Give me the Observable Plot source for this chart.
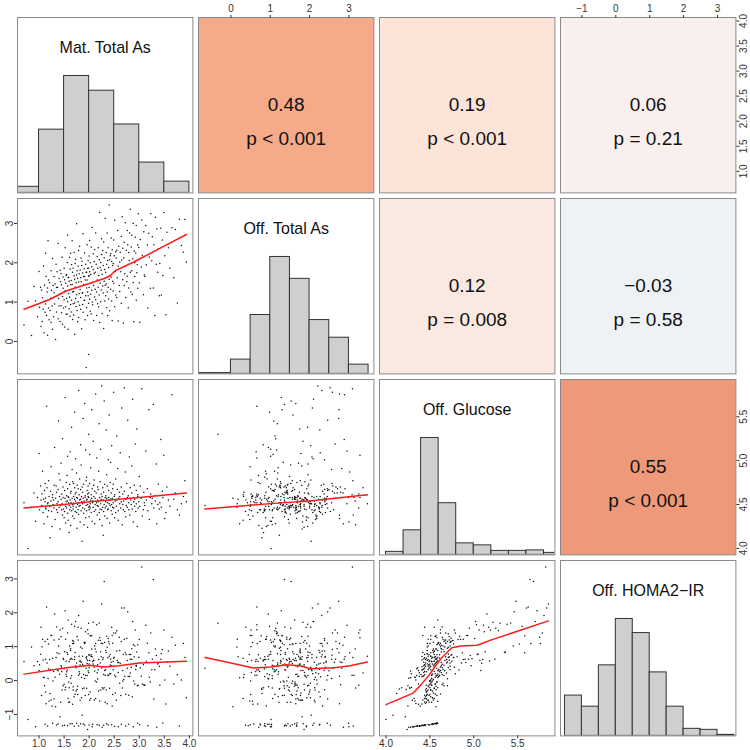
<!DOCTYPE html>
<html>
<head>
<meta charset="utf-8">
<script src="https://cdn.jsdelivr.net/npm/d3@7"></script>
<script src="https://cdn.jsdelivr.net/npm/@observablehq/plot@0.6"></script>
<style>
  body { margin: 0; background: #fff; }
  #chart { position: relative; width: 750px; height: 750px; background: #fff;
           font-family: "Liberation Sans", Arial, Helvetica, sans-serif; }
  #chart svg { position: absolute; overflow: visible; }
</style>
</head>
<body>
<div id="chart"></div>
<script>
// ---------- variable names ----------
const varNames = ["Mat. Total As", "Off. Total As", "Off. Glucose", "Off. HOMA2\u2212IR"];

const matAs = [
  0.70,0.78,0.85,0.90,0.93,0.97,1.00,1.01,1.03,1.04,
  1.05,1.06,1.07,1.08,1.09,1.10,1.11,1.12,1.12,1.13,
  1.13,1.14,1.15,1.16,1.17,1.17,1.18,1.19,1.19,1.20,
  1.21,1.22,1.23,1.24,1.24,1.25,1.26,1.27,1.27,1.28,
  1.29,1.30,1.30,1.31,1.32,1.33,1.34,1.35,1.35,1.36,
  1.37,1.38,1.38,1.39,1.40,1.40,1.41,1.42,1.42,1.43,
  1.44,1.44,1.45,1.45,1.46,1.47,1.47,1.48,1.48,1.49,
  1.50,1.50,1.51,1.51,1.52,1.52,1.53,1.53,1.54,1.54,
  1.55,1.55,1.56,1.56,1.57,1.57,1.57,1.58,1.58,1.59,
  1.59,1.60,1.60,1.61,1.61,1.62,1.62,1.63,1.63,1.63,
  1.64,1.64,1.65,1.65,1.66,1.66,1.67,1.67,1.67,1.68,
  1.68,1.69,1.69,1.70,1.70,1.71,1.71,1.71,1.72,1.72,
  1.73,1.73,1.74,1.74,1.75,1.75,1.75,1.76,1.76,1.77,
  1.77,1.78,1.78,1.79,1.79,1.79,1.80,1.80,1.81,1.81,
  1.82,1.82,1.83,1.83,1.83,1.84,1.84,1.85,1.85,1.86,
  1.86,1.87,1.87,1.87,1.88,1.88,1.89,1.89,1.90,1.90,
  1.91,1.91,1.91,1.92,1.92,1.93,1.93,1.94,1.94,1.95,
  1.95,1.95,1.96,1.96,1.97,1.97,1.97,1.98,1.98,1.99,
  1.99,1.99,1.99,2.00,2.00,2.00,2.01,2.01,2.01,2.02,
  2.02,2.03,2.03,2.04,2.04,2.05,2.05,2.06,2.06,2.07,
  2.07,2.08,2.08,2.09,2.09,2.10,2.10,2.11,2.11,2.12,
  2.12,2.13,2.13,2.14,2.15,2.15,2.16,2.16,2.17,2.17,
  2.18,2.18,2.19,2.19,2.20,2.20,2.21,2.21,2.22,2.22,
  2.23,2.23,2.24,2.24,2.25,2.25,2.26,2.26,2.27,2.27,
  2.28,2.28,2.29,2.29,2.30,2.30,2.31,2.31,2.32,2.32,
  2.33,2.33,2.34,2.34,2.35,2.35,2.36,2.36,2.37,2.37,
  2.38,2.38,2.39,2.39,2.40,2.40,2.41,2.41,2.42,2.42,
  2.43,2.43,2.44,2.44,2.45,2.45,2.46,2.46,2.47,2.47,
  2.48,2.48,2.49,2.49,2.50,2.51,2.51,2.52,2.53,2.53,
  2.54,2.55,2.55,2.56,2.57,2.58,2.58,2.59,2.60,2.61,
  2.61,2.62,2.63,2.64,2.64,2.65,2.66,2.67,2.67,2.68,
  2.69,2.70,2.70,2.71,2.72,2.73,2.73,2.74,2.75,2.76,
  2.76,2.77,2.78,2.79,2.79,2.80,2.81,2.82,2.82,2.83,
  2.84,2.85,2.85,2.86,2.87,2.88,2.88,2.89,2.90,2.91,
  2.91,2.92,2.93,2.94,2.94,2.95,2.96,2.97,2.97,2.98,
  2.99,3.00,3.01,3.02,3.04,3.05,3.06,3.08,3.09,3.10,
  3.11,3.13,3.14,3.16,3.17,3.19,3.20,3.22,3.23,3.25,
  3.26,3.28,3.29,3.31,3.32,3.34,3.35,3.37,3.38,3.40,
  3.41,3.43,3.44,3.46,3.47,3.49,3.51,3.53,3.55,3.58,
  3.61,3.65,3.69,3.72,3.76,3.80,3.84,3.88,3.91,3.94
];
const offAs = [
  0.42,1.02,0.15,1.40,1.03,0.63,1.78,0.87,1.38,0.38,
  1.31,0.51,1.11,0.82,1.92,0.22,1.43,1.03,0.74,2.24,
  0.95,1.65,0.66,1.26,0.16,1.36,2.56,0.85,1.56,0.55,
  1.49,0.79,1.10,1.80,0.49,1.30,0.90,2.11,0.31,1.42,
  0.63,1.24,1.65,0.95,1.46,0.05,1.96,0.75,1.37,1.77,
  1.38,0.58,2.49,1.09,1.60,0.90,1.20,1.81,0.51,1.52,
  0.91,1.72,0.73,1.44,2.14,1.14,0.44,1.64,1.35,0.85,
  1.86,1.06,1.57,0.37,1.28,2.38,0.88,1.48,0.69,1.68,
  1.10,1.70,0.70,2.01,1.41,1.01,2.71,0.31,1.62,1.22,
  1.63,0.83,1.53,1.13,2.14,0.64,1.84,1.44,0.94,2.24,
  0.75,1.55,1.95,1.05,1.45,2.56,0.56,1.76,1.26,0.96,
  1.87,1.27,0.67,1.67,2.27,0.98,1.58,0.18,1.98,1.38,
  1.09,2.09,1.49,0.89,1.69,1.19,2.99,0.79,1.80,0.50,
  1.61,1.01,1.91,2.31,0.61,1.51,1.21,1.72,0.92,2.42,
  1.32,1.82,0.82,1.62,1.12,2.12,1.52,0.32,1.93,1.23,
  2.04,0.94,1.74,1.24,2.74,0.74,1.65,1.45,1.05,1.85,
  1.05,1.65,2.25,0.55,1.56,1.96,1.16,-0.66,1.76,1.36,
  1.76,0.86,1.56,2.46,1.26,0.66,1.86,2.06,1.16,1.66,
  0.97,1.87,-0.33,1.67,2.17,1.37,1.07,2.57,1.77,0.77,
  2.00,1.20,1.70,0.70,2.40,1.30,1.90,1.00,2.90,1.50,
  0.93,1.83,2.23,1.43,0.53,2.03,1.73,1.13,2.33,1.33,
  1.76,1.06,2.76,1.96,1.26,0.66,2.16,1.56,0.96,1.86,
  1.38,2.38,0.88,1.68,2.08,1.18,3.28,0.48,1.88,1.48,
  2.01,1.01,1.81,1.31,2.61,2.21,0.71,1.71,1.41,2.31,
  1.23,1.93,0.33,2.53,1.53,2.13,1.03,1.83,3.13,1.43,
  1.76,1.16,2.26,1.46,1.96,0.86,2.76,1.26,2.06,0.66,
  1.38,2.38,1.88,1.08,3.47,1.58,2.08,0.78,1.68,2.18,
  2.23,1.33,1.63,2.63,1.03,2.03,2.33,0.53,1.93,1.53,
  1.28,1.98,2.58,1.48,2.18,0.88,3.08,1.78,1.18,2.28,
  2.12,1.12,2.32,1.62,2.82,0.52,1.92,2.42,1.42,2.02,
  1.27,2.27,1.77,2.67,0.97,2.07,3.17,1.57,2.37,0.47,
  2.12,1.42,2.52,1.72,3.02,1.12,1.92,2.32,1.52,2.82,
  1.66,2.46,0.86,2.26,1.36,2.06,2.76,1.76,3.36,1.26,
  2.40,1.80,2.70,1.20,2.10,1.50,3.00,0.50,2.30,2.00,
  1.65,2.65,2.25,1.05,2.95,1.75,1.95,2.45,1.35,3.25,
  2.39,1.49,0.49,2.59,1.89,3.09,2.19,1.19,2.79,1.69,
  1.65,2.95,1.95,2.45,0.85,2.75,2.15,1.35,3.25,2.05,
  2.66,1.36,2.46,0.66,3.16,1.96,2.86,1.76,2.36,1.16,
  1.98,2.88,1.18,2.58,1.68,3.28,2.18,0.68,2.78,2.38,
  1.86,2.89,1.62,2.85,0.98,3.11,2.44,2.27,3.10,2.02
];
const glucose = [
  4.52,4.00,4.47,4.63,4.31,4.58,5.08,4.44,4.71,4.55,
  4.49,4.62,4.88,4.41,4.56,4.28,4.66,4.53,4.74,4.46,
  4.57,4.45,5.62,4.69,4.51,4.36,4.52,4.43,4.77,4.59,
  4.48,4.12,4.65,4.54,4.93,4.42,4.25,4.58,4.61,4.50,
  4.55,4.72,4.46,5.15,4.33,4.57,4.71,4.44,4.64,4.51,
  4.41,4.53,4.67,5.45,4.47,4.85,4.59,4.22,4.78,4.49,
  4.56,4.97,4.44,4.62,4.51,5.25,4.38,4.58,4.70,4.45,
  4.50,4.35,4.66,4.42,5.72,4.57,4.48,4.29,4.75,4.53,
  4.46,4.60,4.83,4.54,4.40,5.05,4.68,4.32,4.59,4.52,
  4.58,4.18,4.49,4.73,4.44,5.10,4.55,4.63,4.26,4.47,
  4.52,4.65,5.38,4.43,4.57,4.90,4.37,4.50,4.76,4.48,
  4.45,4.74,4.59,4.34,4.51,5.55,4.69,4.56,4.62,4.42,
  4.54,5.02,4.47,4.64,4.41,4.86,4.58,4.23,4.72,4.50,
  4.57,4.68,4.44,5.80,4.52,4.39,4.61,4.48,4.79,4.55,
  4.49,4.30,5.18,4.56,4.67,4.43,4.95,4.59,4.53,4.70,
  4.08,4.51,4.64,4.46,5.48,4.57,4.40,4.73,4.27,4.54,
  4.52,5.65,4.45,4.60,4.58,4.35,5.12,4.49,4.77,4.55,
  4.43,4.81,4.56,4.66,4.50,4.62,4.24,4.59,4.71,4.47,
  4.58,4.63,5.30,4.44,4.36,4.53,5.07,4.74,4.48,4.51,
  4.46,4.92,4.55,4.61,4.41,5.58,4.57,4.31,4.68,4.52,
  4.54,5.22,4.47,4.72,4.59,4.78,4.42,4.28,4.65,4.50,
  4.57,4.44,5.76,4.63,4.52,5.03,4.38,4.49,4.70,4.55,
  4.48,4.67,4.88,4.53,4.41,5.42,4.58,4.33,4.76,4.45,
  4.51,5.13,4.56,4.62,4.44,5.85,4.26,4.59,4.69,4.47,
  4.15,4.55,4.64,4.42,5.68,4.50,4.73,4.37,4.58,4.46,
  4.53,4.60,5.35,4.48,4.84,4.57,4.34,4.71,4.44,4.52,
  4.45,5.01,4.58,4.66,4.51,5.52,4.29,4.55,4.75,4.49,
  4.56,4.98,4.43,4.63,4.50,5.17,4.39,4.57,4.68,4.47,
  4.52,4.73,5.78,4.46,4.59,4.35,4.61,4.54,4.79,4.41,
  4.48,5.28,4.55,4.67,4.91,4.43,4.32,4.57,4.64,4.51,
  4.59,5.09,4.46,4.70,4.53,5.60,4.27,4.50,4.62,4.44,
  4.54,4.65,5.83,4.42,4.87,4.56,4.36,4.49,4.74,4.58,
  4.47,5.46,4.60,4.52,4.44,5.04,4.38,4.57,4.69,4.55,
  4.50,4.94,4.63,4.45,5.70,4.58,4.30,4.53,4.72,4.48,
  4.56,5.19,4.42,4.66,4.51,5.36,4.25,4.59,4.61,4.46,
  4.53,4.82,4.48,4.71,4.57,5.82,4.37,4.44,4.64,4.52,
  4.49,5.11,4.55,4.68,4.43,5.58,4.33,4.58,4.62,4.51,
  4.57,5.64,4.46,4.60,4.54,4.96,4.28,4.50,4.73,4.45,
  4.52,5.24,4.47,4.65,4.58,5.06,4.34,4.41,4.70,4.55,
  4.48,5.75,4.56,4.63,4.44,4.38,4.51,4.59,4.77,4.53
];
const homa = [
  0.56,-1.15,0.99,0.44,-1.36,0.56,0.30,0.47,0.78,1.57,
  -0.44,1.00,1.22,0.61,0.10,0.08,-0.15,-1.29,1.15,-0.34,
  0.63,-0.68,2.17,0.52,1.22,-1.34,0.06,0.34,1.08,-0.61,
  0.62,-0.38,0.32,-0.57,1.33,1.33,-0.75,-1.26,0.66,-0.01,
  0.27,1.20,-0.54,1.96,0.10,-0.77,0.68,-1.31,1.58,0.82,
  0.31,-1.28,0.29,1.02,0.79,1.22,0.19,-1.07,1.49,-0.64,
  1.30,0.44,0.27,0.40,-0.28,1.54,-1.33,0.66,-0.15,0.62,
  -0.11,0.35,0.85,-1.32,2.06,-0.27,1.22,-0.20,0.57,0.19,
  0.26,0.12,0.31,0.83,-1.33,0.78,1.40,-0.53,1.79,-0.64,
  -0.04,-0.21,0.56,1.02,-0.63,0.62,-1.27,0.94,0.07,0.89,
  0.66,-0.08,1.66,0.14,-1.27,0.63,-0.70,1.09,1.18,-0.18,
  -0.28,1.15,1.09,-1.35,-0.48,1.60,0.62,0.70,-0.40,0.83,
  0.43,1.74,-0.31,0.38,0.41,0.52,-1.26,-0.26,1.30,-0.41,
  -0.17,1.20,1.57,1.92,0.16,-1.34,0.26,0.72,0.20,0.57,
  0.46,-0.58,0.58,-1.27,0.99,0.54,1.54,0.09,-0.51,0.95,
  -1.02,0.72,0.48,-0.24,2.34,-1.28,0.18,0.42,-0.22,1.13,
  0.06,1.09,-1.31,1.12,-0.44,0.15,1.44,0.36,0.68,-0.23,
  0.64,0.70,0.50,0.15,0.59,1.50,-1.44,0.29,1.38,-0.41,
  0.76,0.24,1.69,-1.31,0.38,0.49,0.59,0.75,-0.58,1.32,
  -0.34,1.33,-0.53,0.76,0.71,1.32,0.93,-1.36,0.70,0.56,
  -1.29,1.72,0.49,0.60,0.59,0.39,-0.57,0.28,1.02,-0.01,
  0.93,-0.53,1.09,0.84,-0.04,1.65,0.23,-1.30,0.05,0.47,
  0.32,1.19,0.62,-0.31,-1.32,1.70,1.26,-0.60,1.18,0.52,
  -0.28,0.85,0.70,1.10,0.37,2.26,-1.38,-0.21,0.62,1.09,
  -0.25,0.67,0.18,-1.32,2.92,-0.21,1.12,0.30,0.16,-0.64,
  0.89,0.32,0.83,-0.28,1.31,-1.27,-0.68,0.98,0.67,0.16,
  -1.31,1.24,0.16,1.15,0.72,1.08,0.20,-0.23,0.77,0.46,
  0.20,0.64,0.44,0.54,-1.30,1.57,-0.75,1.33,1.10,-0.41,
  0.56,0.32,1.40,0.66,0.69,-1.35,0.16,-0.37,1.40,0.11,
  -0.58,1.47,0.87,0.59,0.53,0.24,-1.36,0.53,1.28,-0.08,
  0.89,0.51,-0.44,1.15,-1.29,2.14,-0.22,-0.01,0.30,0.77,
  0.03,1.22,2.14,0.13,0.82,-0.40,-1.34,0.76,1.25,0.36,
  0.59,2.03,0.12,-1.29,-0.43,0.77,0.13,0.63,0.22,0.77,
  0.39,0.63,0.94,-0.48,1.74,1.06,-1.36,-0.01,0.70,1.02,
  -0.10,1.49,0.33,0.45,0.42,0.84,-0.15,-1.26,1.06,-0.14,
  0.69,1.21,-1.30,0.38,0.13,3.35,-0.10,0.47,-0.12,-0.14,
  -0.14,1.63,0.57,1.10,-1.33,0.82,0.10,-0.04,1.40,0.32,
  0.63,2.98,-0.54,0.32,0.93,0.74,-1.38,0.49,0.52,0.42,
  -0.14,0.63,0.79,0.92,-1.25,1.49,0.02,-0.69,0.55,0.87,
  0.42,1.28,-0.10,1.04,0.17,-1.34,0.02,1.09,0.68,-0.51
];

// ---------- histograms on the diagonal (bin edges and counts) ----------
const matHistEdges  = [0.5, 1.0, 1.5, 2.0, 2.5, 3.0, 3.5, 4.0];
const matHistCounts = [7, 73, 135, 118, 79, 35, 13];
const offHistEdges  = [-1.0, -0.5, 0.0, 0.5, 1.0, 1.5, 2.0, 2.5, 3.0, 3.5];
const offHistCounts = [1, 1, 17, 70, 139, 113, 64, 43, 11];
const gluHistEdges  = [4.0, 4.2, 4.4, 4.6, 4.8, 5.0, 5.2, 5.4, 5.6, 5.8, 6.0];
const gluHistCounts = [6, 49, 233, 103, 23, 19, 8, 8, 9, 4];
const homaHistEdges  = [-1.5, -1.0, -0.5, 0.0, 0.5, 1.0, 1.5, 2.0, 2.5, 3.0, 3.5];
const homaHistCounts = [40, 29, 70, 116, 102, 63, 29, 7, 6, 1];

// ---------- smoothed (red) lines ----------
const smoothOffVsMat  = [[0.70,0.82],[1.20,1.06],[1.55,1.29],[2.02,1.48],[2.30,1.60],[2.42,1.67],[2.52,1.80],[2.89,2.02],[3.40,2.36],[3.94,2.72]];
const smoothGluVsMat  = [[0.70,4.46],[1.50,4.50],[2.00,4.53],[3.00,4.58],[3.94,4.63]];
const smoothGluVsOff  = [[-0.66,4.45],[1.00,4.51],[2.00,4.54],[3.47,4.61]];
const smoothHomaVsMat = [[0.70,0.19],[1.55,0.38],[2.00,0.45],[2.30,0.40],[2.60,0.44],[3.00,0.52],[3.94,0.57]];
const smoothHomaVsOff = [[-0.66,0.68],[0.00,0.52],[0.57,0.37],[1.00,0.40],[1.42,0.47],[1.75,0.44],[2.02,0.35],[2.62,0.38],[3.00,0.43],[3.47,0.55]];
const smoothHomaVsGlu = [[4.00,-0.71],[4.31,-0.37],[4.40,-0.12],[4.49,0.16],[4.57,0.45],[4.64,0.69],[4.75,0.97],[4.85,1.02],[5.04,1.04],[5.20,1.20],[5.85,1.76]];

// ---------- correlations (upper panels, row-major) ----------
const corrCells = [[0,1],[0,2],[0,3],[1,2],[1,3],[2,3]];
const corrR     = ["0.48", "0.19", "0.06", "0.12", "\u22120.03", "0.55"];
const corrP     = ["p < 0.001", "p < 0.001", "p = 0.21", "p = 0.008", "p = 0.58", "p < 0.001"];
const corrFill  = ["#F5AA8A", "#FCE4D9", "#F9F0ED", "#F9E9E1", "#EEF2F4", "#EE9A7A"];

// ---------- axis tick values ----------
const matTicks  = [1.0, 1.5, 2.0, 2.5, 3.0, 3.5, 4.0];
const offTicks  = [0, 1, 2, 3];
const gluTicks  = [4.0, 4.5, 5.0, 5.5];
const homaTicks = [-1, 0, 1, 2, 3];

// ---------- build ----------
const vars = [matAs, offAs, glucose, homa];
const hists = [
  {edges: matHistEdges, counts: matHistCounts},
  {edges: offHistEdges, counts: offHistCounts},
  {edges: gluHistEdges, counts: gluHistCounts},
  {edges: homaHistEdges, counts: homaHistCounts}
];
const smooth = {"1,0": smoothOffVsMat, "2,0": smoothGluVsMat, "2,1": smoothGluVsOff,
                "3,0": smoothHomaVsMat, "3,1": smoothHomaVsOff, "3,2": smoothHomaVsGlu};
const ticks = [matTicks, offTicks, gluTicks, homaTicks];
const fmts = [d3.format(".1f"), d3.format("d"), d3.format(".1f"), d3.format("d")];
const domains = vars.map(v => { const [a, b] = d3.extent(v); const e = (b - a) * 0.04; return [a - e, b + e]; });
const idx = d3.range(matAs.length);

const W = 175.4, STEP = 181, X0 = 17.3, Y0 = 17;
const AX = "#333";
const chart = document.getElementById("chart");

for (let i = 0; i < 4; i++) {
  for (let j = 0; j < 4; j++) {
    const marks = [];
    let yDomain = domains[i];
    if (i === j) {
      const h = hists[i];
      const bins = h.counts.map((c, k) => ({x1: h.edges[k], x2: h.edges[k + 1], c}));
      yDomain = [0, 1.5 * d3.max(h.counts)];
      marks.push(Plot.rect(bins, {x1: "x1", x2: "x2", y1: 0, y2: "c", fill: "#CFCFCF", stroke: "#333", strokeWidth: 1, clip: true}));
      marks.push(Plot.text([varNames[i]], {text: d => d, frameAnchor: "top", dy: 30, fontSize: 16, fill: "#111", lineAnchor: "middle"}));
      marks.push(Plot.frame({stroke: "#8a8a8a", strokeWidth: 1}));
    } else if (i > j) {
      marks.push(Plot.dot(idx, {x: k => vars[j][k], y: k => vars[i][k], r: 0.75, fill: "#111", stroke: null}));
      marks.push(Plot.line(smooth[i + "," + j], {x: d => d[0], y: d => d[1], stroke: "#FF1A1A", strokeWidth: 1.5}));
      marks.push(Plot.frame({stroke: "#8a8a8a", strokeWidth: 1}));
    } else {
      const c = corrCells.findIndex(([a, b]) => a === i && b === j);
      marks.push(Plot.frame({fill: corrFill[c], stroke: "#8a8a8a", strokeWidth: 1}));
      marks.push(Plot.text([corrR[c]], {text: d => d, frameAnchor: "middle", fontSize: 19, fill: "#111"}));
      marks.push(Plot.text([corrP[c]], {text: d => d, frameAnchor: "middle", dy: 34, fontSize: 19, fill: "#111"}));
    }
    let mt = 0, mb = 0, ml = 0, mr = 0;
    if (i === 0 && j % 2 === 1) {
      mt = 17;
      marks.push(Plot.axisX({anchor: "top", ticks: ticks[j], tickFormat: fmts[j], tickSize: 3, tickPadding: 2, stroke: AX, fill: AX}));
    }
    if (i === 3 && j % 2 === 0) {
      mb = 15;
      marks.push(Plot.axisX({anchor: "bottom", ticks: ticks[j], tickFormat: fmts[j], tickSize: 3, tickPadding: 1, stroke: AX, fill: AX}));
    }
    if (j === 0 && i % 2 === 1) {
      ml = 17;
      marks.push(Plot.axisY({anchor: "left", ticks: ticks[i], tickFormat: fmts[i], tickSize: 3, tickPadding: 1, tickRotate: -90, stroke: AX, fill: AX}));
    }
    if (j === 3 && i % 2 === 0) {
      mr = 15;
      marks.push(Plot.axisY({anchor: "right", ticks: ticks[i], tickFormat: fmts[i], tickSize: 3, tickPadding: 1, tickRotate: -90, lineAnchor: "top", stroke: AX, fill: AX}));
    }
    const svg = Plot.plot({
      width: W + ml + mr, height: W + mt + mb,
      marginTop: mt, marginBottom: mb, marginLeft: ml, marginRight: mr,
      x: {domain: domains[j], axis: null},
      y: {domain: yDomain, axis: null},
      style: {fontFamily: "'Liberation Sans', Arial, Helvetica, sans-serif", fontSize: "10px", background: "transparent", overflow: "visible"},
      marks
    });
    svg.style.left = (X0 + j * STEP - ml) + "px";
    svg.style.top = (Y0 + i * STEP - mt) + "px";
    chart.appendChild(svg);
  }
}
</script>
</body>
</html>
